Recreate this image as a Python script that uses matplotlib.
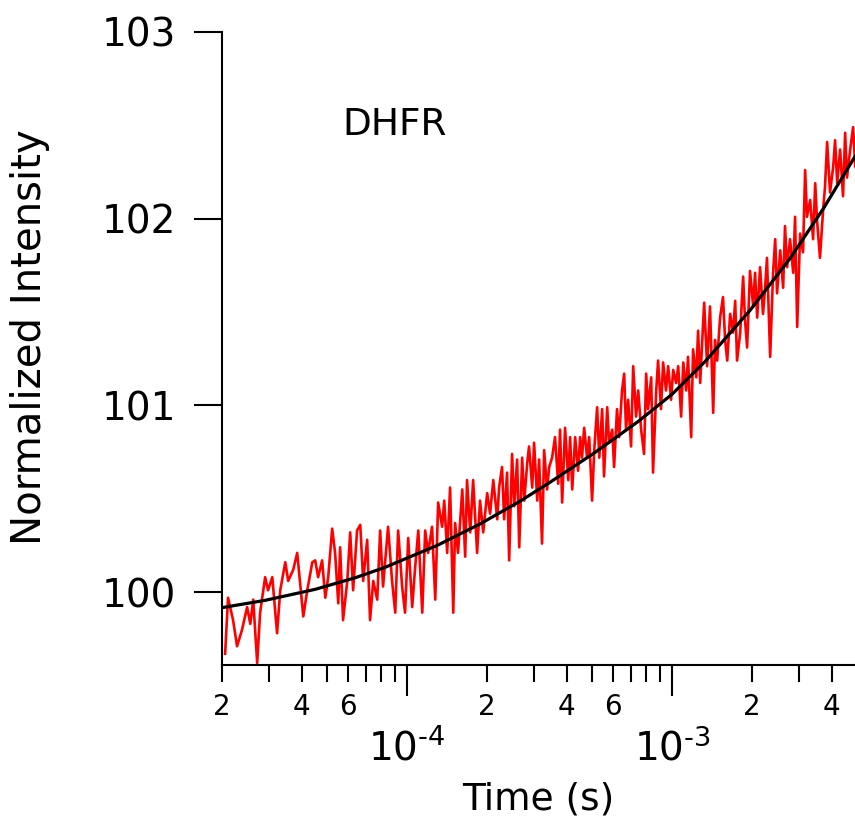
import numpy as np
import matplotlib.pyplot as plt
from matplotlib.ticker import LogLocator, FixedLocator, FixedFormatter, FuncFormatter

plt.rcParams['font.family'] = 'DejaVu Sans'
plt.rcParams['mathtext.default'] = 'regular'

log_time = [
    -4.687, -4.676, -4.657, -4.642, -4.623, -4.604, -4.592, -4.581, -4.566, -4.555,
    -4.536, -4.525, -4.509, -4.491, -4.479, -4.460, -4.449, -4.430, -4.415, -4.404,
    -4.392, -4.377, -4.358, -4.347, -4.336, -4.321, -4.309, -4.298, -4.283, -4.272,
    -4.260, -4.253, -4.242, -4.226, -4.215, -4.204, -4.189, -4.177, -4.166, -4.151,
    -4.140, -4.128, -4.113, -4.102, -4.091,
    -4.072, -4.057, -4.045, -4.034, -4.019, -4.008, -3.996, -3.981, -3.970, -3.958,
    -3.943, -3.932, -3.921, -3.906, -3.894, -3.883, -3.868, -3.860, -3.849, -3.838,
    -3.826, -3.819, -3.808, -3.792, -3.781, -3.774, -3.762, -3.751, -3.736, -3.725,
    -3.713, -3.698, -3.687, -3.675, -3.660, -3.653, -3.642, -3.634, -3.623, -3.615,
    -3.604, -3.596, -3.585, -3.577, -3.566, -3.558, -3.547, -3.540, -3.528, -3.521,
    -3.509, -3.502, -3.491, -3.483, -3.472, -3.464,
    -3.453, -3.442, -3.430, -3.423, -3.415, -3.404, -3.392, -3.385, -3.377, -3.366,
    -3.355, -3.347, -3.340, -3.332, -3.321, -3.313, -3.302, -3.294, -3.283, -3.275,
    -3.264, -3.257, -3.245, -3.238, -3.226, -3.219, -3.208, -3.200, -3.189, -3.181,
    -3.174, -3.166, -3.155, -3.147, -3.136, -3.128, -3.117, -3.106, -3.098, -3.091,
    -3.079, -3.072, -3.060, -3.053, -3.042, -3.034, -3.023, -3.015, -3.004, -2.996,
    -2.985, -2.977, -2.966, -2.958, -2.947, -2.940, -2.928, -2.921, -2.909, -2.902,
    -2.894, -2.887, -2.879,
    -2.868, -2.857, -2.845, -2.838, -2.830, -2.819, -2.808, -2.800, -2.792, -2.781,
    -2.770, -2.762, -2.755, -2.743, -2.732, -2.725, -2.717, -2.706, -2.694, -2.687,
    -2.679, -2.668, -2.657, -2.649, -2.642, -2.630, -2.619, -2.611, -2.604, -2.592,
    -2.581, -2.574, -2.566, -2.555, -2.543, -2.536, -2.528, -2.517, -2.506, -2.498,
    -2.491, -2.479, -2.468, -2.460, -2.453, -2.442, -2.430, -2.423, -2.415, -2.404,
    -2.392, -2.385, -2.377, -2.366, -2.355, -2.347, -2.340, -2.328, -2.317, -2.309,
]
intensity = [
    99.67, 99.97, 99.85, 99.71, 99.80, 99.92, 99.83, 99.96, 99.62, 99.89,
    100.08, 100.01, 100.08, 99.78, 100.01, 100.16, 100.06, 100.12, 100.21, 100.05,
    99.87, 100.01, 100.16, 100.17, 100.08, 100.17, 99.97, 100.08, 100.34, 100.21,
    99.94, 100.24, 99.85, 100.06, 100.32, 100.01, 100.33, 100.36, 100.06, 100.28,
    99.85, 100.06, 99.96, 100.33, 100.03,
    100.35, 100.06, 99.89, 100.33, 100.03, 99.89, 100.29, 99.92, 100.13, 100.33,
    99.89, 100.33, 100.21, 100.35, 99.96, 100.48, 100.35, 100.49, 100.21, 100.56,
    99.89, 100.37, 100.21, 100.55, 100.19, 100.60, 100.32, 100.60, 100.21, 100.49,
    100.32, 100.53, 100.42, 100.60, 100.39, 100.56, 100.67, 100.39, 100.64, 100.17,
    100.74, 100.46, 100.71, 100.24, 100.72, 100.49, 100.69, 100.78, 100.56, 100.80,
    100.49, 100.71, 100.26, 100.76, 100.55, 100.67,
    100.72, 100.83, 100.58, 100.87, 100.48, 100.88, 100.60, 100.83, 100.55, 100.83,
    100.65, 100.83, 100.72, 100.88, 100.72, 100.83, 100.49, 100.76, 100.99, 100.72,
    100.98, 100.62, 100.99, 100.80, 100.87, 100.67, 100.98, 100.83, 101.08, 101.17,
    100.87, 101.03, 100.78, 101.21, 100.94, 101.08, 100.87, 100.74, 101.17, 100.98,
    101.15, 100.64, 101.08, 101.24, 100.98, 101.23, 101.08, 101.21, 101.03, 101.19,
    101.12, 101.21, 100.94, 101.23, 101.08, 101.26, 100.83, 101.30, 101.15, 101.40,
    101.12, 101.33, 101.55,
    101.21, 101.53, 100.96, 101.35, 101.24, 101.47, 101.58, 101.35, 101.24, 101.49,
    101.39, 101.56, 101.24, 101.39, 101.69, 101.46, 101.31, 101.72, 101.53, 101.71,
    101.47, 101.74, 101.49, 101.63, 101.79, 101.26, 101.71, 101.89, 101.60, 101.83,
    101.63, 101.96, 101.74, 101.89, 101.71, 102.01, 101.42, 101.92, 101.82, 102.26,
    102.01, 102.10, 101.89, 102.19, 101.99, 101.79, 102.05, 102.17, 102.41, 102.14,
    102.28, 102.42, 102.19, 102.37, 102.12, 102.46, 102.22, 102.37, 102.49, 102.28,
]

# fitted curve
fit_log_time = [-4.694, -4.536, -4.347, -4.196, -4.083, -3.887, -3.725, -3.574, -3.460,
                -3.291, -3.128, -3.000, -2.875, -2.706, -2.555, -2.430, -2.309]
fit_intensity = [99.918, 99.956, 100.015, 100.077, 100.133, 100.250, 100.365, 100.487, 100.589,
                 100.748, 100.914, 101.060, 101.236, 101.509, 101.787, 102.052, 102.335]

y_ticks = [100, 101, 102, 103]
decades = [1e-4, 1e-3]
decade_labels = ['$10^{\u20104}$', '$10^{\u20103}$']
minor_labelled = (2, 4, 6)

t = 10.0 ** np.array(log_time)
t_fit = 10.0 ** np.array(fit_log_time)

fig = plt.figure(figsize=(8.55, 8.25), dpi=100)
ax = fig.add_axes([0.2596, 0.194, 0.7404, 0.7673])

ax.plot(t, intensity, color='#ff0000', lw=1.9)
ax.plot(t_fit, fit_intensity, color='black', lw=2.3)

ax.set_xscale('log')
ax.set_xlim(2e-5, 4.9e-3)
ax.set_ylim(99.61, 103)

ax.spines[['top', 'right']].set_visible(False)
ax.spines[['left', 'bottom']].set_linewidth(1.5)


def minor_fmt(x, pos):
    m = int(round(x / 10 ** np.floor(np.log10(x) + 1e-9)))
    return str(m) if m in minor_labelled else ''


ax.set_yticks(y_ticks)
ax.set_yticklabels([str(v) for v in y_ticks])
ax.tick_params(axis='y', direction='out', length=20, width=1.5, labelsize=28, pad=13)

ax.xaxis.set_major_locator(FixedLocator(decades))
ax.xaxis.set_major_formatter(FixedFormatter(decade_labels))
ax.xaxis.set_minor_locator(LogLocator(base=10, subs=range(2, 10), numticks=20))
ax.xaxis.set_minor_formatter(FuncFormatter(minor_fmt))
ax.tick_params(axis='x', which='major', direction='out', length=22, width=1.5,
               labelsize=28, pad=24)
ax.tick_params(axis='x', which='minor', direction='out', length=12, width=1.5,
               labelsize=20, pad=8)

ax.set_xlabel('Time (s)', fontsize=27, labelpad=9)
ax.set_ylabel('Normalized Intensity', fontsize=29)
ax.yaxis.set_label_coords(-0.272, 0.518)

ax.text(0.191, 0.853, 'DHFR', transform=ax.transAxes, fontsize=27,
        ha='left', va='center')

fig.savefig('out.png', dpi=100)
